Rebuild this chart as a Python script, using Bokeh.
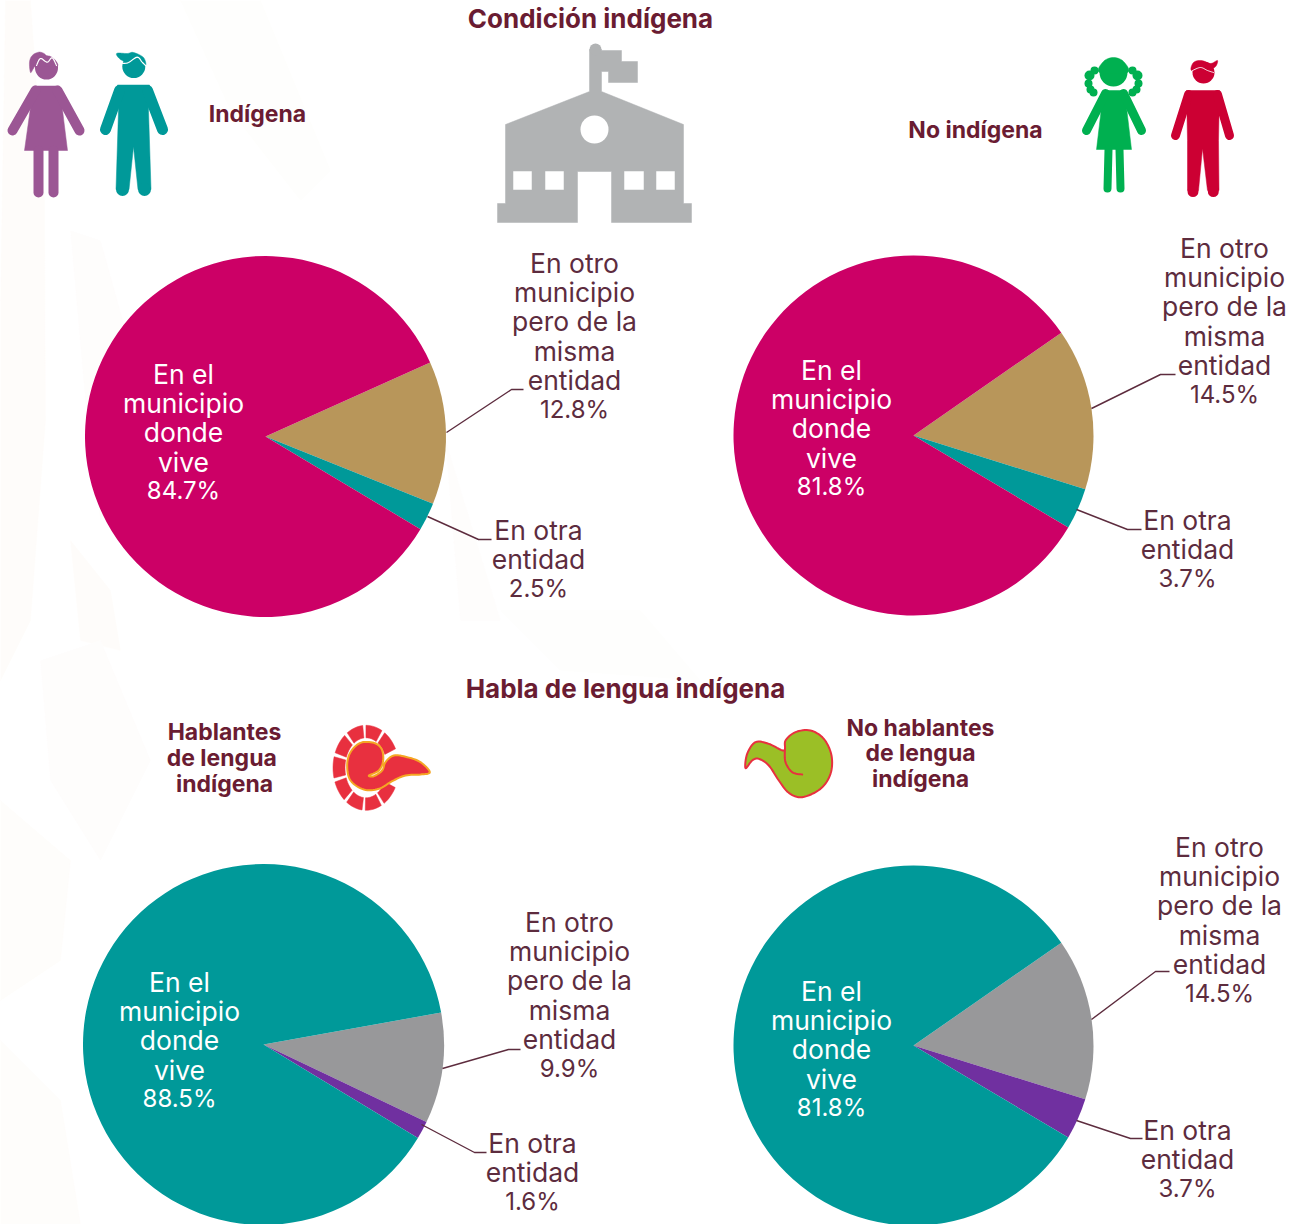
from bokeh.plotting import figure
from bokeh.embed import file_html
from bokeh.resources import INLINE
from bokeh.models import Range1d
from bokeh.core.properties import value
import math

# ---- data ----
values_indigena = [84.7, 12.8, 2.5]
values_no_indigena = [81.8, 14.5, 3.7]
values_hablantes = [88.5, 9.9, 1.6]
values_no_hablantes = [81.8, 14.5, 3.7]
label_main = ["En el", "municipio", "donde", "vive"]
label_otro = ["En otro", "municipio", "pero de la", "misma", "entidad"]
label_otra = ["En otra", "entidad"]
title_top = "Condición indígena"
title_mid = "Habla de lengua indígena"

W, H = 1300, 1224
FONT = "Inter"
TXT = "#5d2c3e"
TITLE = "#6a1c32"
MAGENTA, BROWN, TEAL = "#cc0066", "#b8965a", "#009999"
GREY, PURPLE = "#98989a", "#7030a0"
RED = "#e8303f"

p = figure(width=W, height=H, output_backend="svg", toolbar_location=None,
           x_range=Range1d(0, W), y_range=Range1d(-H, 0),
           min_border=0, outline_line_color=None, x_axis_type=None, y_axis_type=None)
p.grid.visible = False
p.background_fill_color = "white"
p.border_fill_color = "white"


def smooth(pts, closed=True, n=8):
    out = []
    m = len(pts)
    rng = range(m) if closed else range(m - 1)
    for i in rng:
        if closed:
            p0, p1, p2, p3 = pts[(i - 1) % m], pts[i], pts[(i + 1) % m], pts[(i + 2) % m]
        else:
            p0, p1, p2, p3 = pts[max(i - 1, 0)], pts[i], pts[i + 1], pts[min(i + 2, m - 1)]
        for k in range(n):
            t = k / n
            f = lambda a, b, c, d: 0.5 * (2 * b + (c - a) * t + (2 * a - 5 * b + 4 * c - d) * t * t + (3 * b - a - 3 * c + d) * t ** 3)
            out.append((f(p0[0], p1[0], p2[0], p3[0]), f(p0[1], p1[1], p2[1], p3[1])))
    if not closed:
        out.append(pts[-1])
    return out


def poly(pts, color, line=None, lw=0):
    p.patch([a for a, _ in pts], [-b for _, b in pts], fill_color=color,
            line_color=line or color, line_width=lw if line else 0.5)


def stroke(pts, color, lw, cap="round"):
    p.line([a for a, _ in pts], [-b for _, b in pts], line_color=color, line_width=lw,
           line_cap=cap, line_join="round")


def disc(x, y, r, color):
    p.circle(x=[x], y=[-y], radius=r, fill_color=color, line_color=None)


def label(x, y, txt, color=TXT, size=26.5, bold=False):
    p.text(x=[x], y=[-(y - 1.8)], text=[txt], text_color=color, text_font=value(FONT),
           text_font_size=f"{size}px", text_font_style="bold" if bold else "normal",
           text_align="center", text_baseline="middle")


def block(x, y0, lines, pct, color=TXT):
    for i, t in enumerate(lines):
        label(x, y0 + i * 29.3, t, color)
    label(x, y0 + len(lines) * 29.3, pct, color, 24)


# ---- faint background ----
for pts, c in [
    ([(5, 0), (30, 0), (44, 200), (45, 420), (30, 620), (0, 680), (0, 300)], "#fefcfa"),
    ([(70, 230), (100, 240), (150, 420), (100, 520), (85, 400)], "#fefdfc"),
    ([(70, 540), (110, 590), (120, 650), (80, 640)], "#fefcfa"),
    ([(40, 660), (100, 640), (150, 760), (100, 860), (50, 780)], "#fefdfc"),
    ([(0, 800), (70, 860), (60, 960), (0, 1000)], "#fefdfb"),
    ([(0, 1040), (60, 1100), (80, 1224), (0, 1224)], "#fefdfb"),
    ([(180, 0), (260, 0), (330, 170), (300, 200), (230, 110)], "#fefefd"),
    ([(500, 610), (640, 610), (700, 680), (560, 670)], "#fefefd"),
    ([(445, 440), (500, 620), (460, 620)], "#fefdfc"),
]:
    poly(pts, c)


# ---- pies ----
def pie(cx, cy, r, vals, start_deg, colors):
    # slices run clockwise from start_deg: second, third, then first (largest)
    order = [1, 2, 0]
    a = start_deg
    for i in order:
        b = a - vals[i] * 3.6
        p.wedge(x=[cx], y=[-cy], radius=r, start_angle=math.radians(b), end_angle=math.radians(a),
                fill_color=colors[i], line_color=None)
        a = b


pie(265, 436, 180.5, values_indigena, 24.2, [MAGENTA, BROWN, TEAL])
pie(913, 435, 180, values_no_indigena, 34.8, [MAGENTA, BROWN, TEAL])
pie(263, 1044, 180.5, values_hablantes, 10.2, [TEAL, GREY, PURPLE])
pie(913, 1045, 180, values_no_hablantes, 34.8, [TEAL, GREY, PURPLE])

# ---- leader lines ----
for pts in [
    [(446, 432), (511, 389), (523, 389)], [(427, 516), (478, 539), (491, 539)],
    [(1091, 408), (1160, 374), (1175, 374)], [(1076, 509), (1127, 529), (1141, 529)],
    [(442, 1068), (508, 1049), (520, 1049)], [(421, 1124), (474, 1152), (486, 1152)],
    [(1091, 1019), (1155, 971), (1169, 971)], [(1076, 1120), (1130, 1138), (1142, 1138)],
]:
    stroke(pts, TXT, 1.4, "butt")

# ---- pie labels ----
pct = lambda v: f"{v}%"
block(183, 375, label_main, pct(values_indigena[0]), "white")
block(574, 264, label_otro, pct(values_indigena[1]))
block(538, 531, label_otra, pct(values_indigena[2]))
block(831, 371, label_main, pct(values_no_indigena[0]), "white")
block(1224, 249, label_otro, pct(values_no_indigena[1]))
block(1187, 521, label_otra, pct(values_no_indigena[2]))
block(179, 983, label_main, pct(values_hablantes[0]), "white")
block(569, 923, label_otro, pct(values_hablantes[1]))
block(532, 1144, label_otra, pct(values_hablantes[2]))
block(831, 992, label_main, pct(values_no_hablantes[0]), "white")
block(1219, 848, label_otro, pct(values_no_hablantes[1]))
block(1187, 1131, label_otra, pct(values_no_hablantes[2]))

# ---- titles ----
label(590, 20, title_top, TITLE, 26, True)
label(625, 690, title_mid, TITLE, 26, True)
label(257, 115, "Indígena", TITLE, 23, True)
label(975, 131, "No indígena", TITLE, 23, True)
for i, t in enumerate(["Hablantes", "de  lengua", "indígena"]):
    label(224, 733 + i * 26, t, TITLE, 23, True)
for i, t in enumerate(["No hablantes", "de lengua", "indígena"]):
    label(920, 729 + i * 25.7, t, TITLE, 23, True)

# ---- school ----
SCHOOL = "#b1b3b4"
poly([(589, 49), (601, 49), (601, 50), (621, 50), (621, 61), (637, 61), (637, 82), (608, 82), (608, 71),
      (601, 71), (601, 91), (683, 124), (683, 203), (691, 203), (691, 222), (611, 222), (611, 171),
      (577, 171), (577, 222), (497, 222), (497, 203), (505, 203), (505, 124), (589, 91)], SCHOOL)
disc(595, 49, 6, SCHOOL)
disc(594, 129, 14, "white")
for x0, x1 in [(513, 531), (545, 563), (624, 643), (656, 674)]:
    poly([(x0, 171), (x1, 171), (x1, 189), (x0, 189)], "white")

# ---- woman (purple) ----
PURP = "#9b5694"
disc(46, 67.5, 11.5, PURP)
poly(smooth([(30, 72), (29, 61.7), (31.7, 55), (38, 51.7), (43, 52.7), (46, 55), (50, 56), (55, 60), (56, 66), (36, 66), (33, 68)]), PURP)
stroke(smooth([(36, 65), (40, 58), (46.7, 61.7), (51.7, 57.3), (56, 65)], closed=False), "white", 1.2)
poly([(33, 85.5), (59, 85.5), (67, 150), (24, 150)], PURP)
stroke([(35, 90), (12, 130)], PURP, 10)
stroke([(57, 90), (79, 130)], PURP, 10)
stroke([(38, 150), (38, 192)], PURP, 10)
stroke([(53, 150), (53, 192)], PURP, 10)

# ---- man (teal) ----
disc(133.3, 66, 11.5, TEAL)
poly(smooth([(116.7, 52.7), (126.7, 53), (133, 52), (143, 57), (145, 65), (136.7, 57.5), (128, 61.7), (121.7, 60), (117, 56)]), TEAL)
stroke(smooth([(122, 63), (128, 62), (136.7, 56.7), (141.7, 61.7), (145, 65)], closed=False), "white", 1.2)
poly([(117, 84.5), (149, 84.5), (148, 110), (150.5, 189), (137.5, 189), (133, 146), (128.5, 189), (115.5, 189), (118, 110)], TEAL)
disc(122, 189, 6.5, TEAL)
disc(144, 189, 6.5, TEAL)
stroke([(119, 90), (105, 129)], TEAL, 11)
stroke([(147, 90), (162, 129)], TEAL, 11)

# ---- girl (green) ----
GREEN = "#00b050"
disc(1113, 72, 14, GREEN)
poly(smooth([(1099, 72), (1103, 61), (1113, 57), (1123, 61), (1127, 72)]), GREEN)
for x, y, r in [(1094, 70, 4), (1089, 75, 5), (1088, 83, 4), (1090, 89, 4), (1093, 92, 4),
                (1132, 70, 4), (1137, 75, 5), (1138, 83, 4), (1136, 89, 4), (1132, 92, 4)]:
    disc(x, y, r, GREEN)
poly([(1103, 90), (1124, 90), (1131, 149), (1096, 149)], GREEN)
stroke([(1105, 93), (1086, 130)], GREEN, 9)
stroke([(1123, 93), (1141, 130)], GREEN, 9)
stroke([(1108, 149), (1107, 188)], GREEN, 8)
stroke([(1119, 149), (1120, 188)], GREEN, 8)

# ---- boy (red) ----
CRIM = "#cc0033"
disc(1203, 72, 11, CRIM)
poly(smooth([(1191, 70), (1193, 62), (1201, 60), (1210, 63), (1217, 60), (1214, 67), (1203, 68)]), CRIM)
stroke(smooth([(1192, 70), (1200, 67), (1207, 70), (1213, 72)], closed=False), "white", 0.9)
poly([(1186, 90), (1219, 90), (1218, 140), (1218.5, 190), (1207, 190), (1202, 148), (1198, 190), (1187, 190), (1187, 140)], CRIM)
disc(1192.5, 191, 5.5, CRIM)
disc(1212.8, 191, 5.5, CRIM)
stroke([(1188, 94), (1175, 135)], CRIM, 9)
stroke([(1217, 94), (1229, 135)], CRIM, 9)

# ---- red glyph ----
OX, OY = 320, 710
z = lambda pts, ox=OX, oy=OY: [(ox + a / 3, oy + b / 3) for a, b in pts]
CX, CY = 365.5, 767.3
for k in range(9):
    mid = 41 + k * 34.6
    seg = []
    for rx, ry, sweep in [(33, 42.5, 1), (21, 30, -1)]:
        for j in range(7):
            a = math.radians(mid + sweep * (-14.5 + j * 29 / 6))
            seg.append((CX + rx * math.cos(a), CY - ry * math.sin(a)))
    poly(seg, RED)
body = smooth(z([(145, 195), (175, 180), (188, 150), (183, 115), (160, 97), (120, 97), (90, 125), (80, 165),
                 (90, 210), (130, 237), (175, 235), (215, 212), (255, 195), (300, 192), (328, 185), (300, 155),
                 (260, 140), (220, 135), (195, 155), (185, 180), (160, 197)]))
poly(body, RED, "#f5a623", 2)

# ---- green glyph ----
g = [(30, 158), (35, 115), (60, 80), (100, 85), (145, 105), (150, 75), (180, 50), (225, 45), (265, 70), (288, 120),
     (285, 175), (255, 220), (200, 245), (160, 232), (130, 195), (100, 150), (70, 130), (50, 135)]
poly(smooth(z(g, 735, 715)), "#9bbf26", RED, 2)
stroke(smooth(z([(148, 105), (150, 140), (170, 170), (200, 177)], 735, 715), closed=False), RED, 2)

open("out.html", "w").write(file_html(p, INLINE))
